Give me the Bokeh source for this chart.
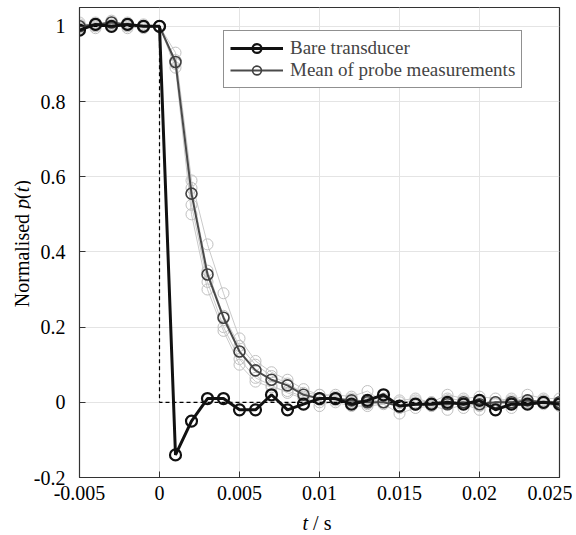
from bokeh.plotting import figure
from bokeh.models import Legend, LegendItem, FixedTicker, Range1d, Div
from bokeh.layouts import row, column
from bokeh.embed import file_html
from bokeh.resources import INLINE

# ---------------- data ----------------
t = [-0.005, -0.004, -0.003, -0.002, -0.001, 0.0, 0.001, 0.002, 0.003, 0.004,
     0.005, 0.006, 0.007, 0.008, 0.009, 0.010, 0.011, 0.012, 0.013, 0.014,
     0.015, 0.016, 0.017, 0.018, 0.019, 0.020, 0.021, 0.022, 0.023, 0.024, 0.025]

bare = [0.99, 1.005, 1.0, 1.005, 1.0, 1.0, -0.14, -0.05, 0.01, 0.01,
        -0.02, -0.02, 0.02, -0.02, -0.005, 0.01, 0.01, -0.005, 0.005, 0.02,
        -0.01, -0.005, -0.005, 0.0, -0.005, 0.005, -0.02, -0.005, -0.005, 0.0, -0.005]

mean_probe = [1.0, 1.005, 1.01, 1.005, 1.0, 1.0, 0.905, 0.555, 0.34, 0.225,
              0.135, 0.085, 0.06, 0.045, 0.02, 0.01, 0.01, 0.005, 0.0, 0.0,
              -0.01, -0.005, -0.005, -0.005, 0.0, -0.005, 0.0, 0.0, 0.005, 0.0, 0.0]

probe_1 = [1.01, 1.0, 1.015, 1.0, 1.005, 1.0, 0.93, 0.59, 0.42, 0.29,
           0.17, 0.11, 0.08, 0.06, 0.035, 0.02, 0.02, 0.015, 0.03, 0.0,
           0.005, 0.01, 0.0, 0.02, 0.01, 0.015, 0.01, 0.005, 0.02, 0.01, 0.01]
probe_2 = [1.0, 1.01, 1.0, 1.01, 1.0, 1.0, 0.91, 0.525, 0.32, 0.2,
           0.115, 0.065, 0.045, 0.025, 0.01, 0.0, 0.0, -0.01, -0.01, -0.005,
           -0.03, -0.015, -0.01, -0.02, -0.005, -0.02, -0.005, -0.015, 0.0, -0.005, -0.01]
probe_3 = [0.995, 1.0, 1.005, 1.0, 0.995, 1.0, 0.89, 0.50, 0.30, 0.19,
           0.10, 0.055, 0.04, 0.03, 0.015, -0.01, 0.005, 0.01, 0.0, 0.01,
           -0.015, 0.0, -0.01, 0.01, 0.005, -0.01, 0.0, 0.01, 0.005, 0.005, 0.0]
probe_4 = [1.005, 0.995, 1.01, 0.995, 1.0, 1.0, 0.90, 0.57, 0.35, 0.23,
           0.15, 0.10, 0.07, 0.05, 0.025, 0.02, 0.015, 0.0, -0.005, 0.0,
           0.0, 0.005, 0.0, 0.005, -0.015, 0.0, 0.0, -0.005, 0.0, 0.005, 0.0]
probes = [probe_1, probe_2, probe_3, probe_4]

ideal_t = [-0.005, 0.0, 0.0, 0.025]
ideal_p = [1.0, 1.0, 0.0, 0.0]

x_ticks = [-0.005, 0.0, 0.005, 0.01, 0.015, 0.02, 0.025]
x_tick_labels = ["-0.005", "0", "0.005", "0.01", "0.015", "0.02", "0.025"]
y_ticks = [-0.2, 0.0, 0.2, 0.4, 0.6, 0.8, 1.0]
y_tick_labels = ["-0.2", "0", "0.2", "0.4", "0.6", "0.8", "1"]

legend_labels = ["Bare transducer", "Mean of probe measurements"]
y_title_html = "Normalised <i>p</i>(<i>t</i>)"
x_title_html = "<i>t</i> / s"

# ---------------- figure ----------------
FONT = "Liberation Serif"
CSS_FONT = "'Liberation Serif', 'Times New Roman', Times, serif"
YDIV_W = 30
FIG_W, FIG_H = 540, 509
p = figure(width=FIG_W, height=FIG_H, output_backend="svg", toolbar_location=None,
           x_range=Range1d(-0.005, 0.025), y_range=Range1d(-0.2, 1.05),
           frame_width=480, frame_height=470,
           min_border_left=77 - YDIV_W, min_border_right=13, min_border_top=7,
           min_border_bottom=32, margin=0)
p.outline_line_color = "#333333"
p.outline_line_width = 1.2
p.background_fill_color = "white"
p.border_fill_color = "white"

for ax, ticks, labels in ((p.xaxis[0], x_ticks, x_tick_labels),
                          (p.yaxis[0], y_ticks, y_tick_labels)):
    ax.ticker = FixedTicker(ticks=ticks)
    ax.major_label_overrides = {tv: lab for tv, lab in zip(ticks, labels)}
    ax.minor_tick_line_color = None
    ax.major_tick_in = 6
    ax.major_tick_out = 0
    ax.major_tick_line_color = "#333333"
    ax.axis_line_color = "#333333"
    ax.major_label_text_font = FONT
    ax.major_label_text_font_size = "20px"
    ax.major_label_text_color = "black"
p.xaxis.major_label_standoff = 8
p.yaxis.major_label_standoff = 14

p.xgrid.grid_line_color = "#e4e4e4"
p.ygrid.grid_line_color = "#e4e4e4"

# individual probes
for pr in probes:
    p.line(t, pr, line_color="#cacaca", line_width=1)
    p.scatter(t, pr, marker="circle", size=11, fill_color=None,
              line_color="#c0c0c0", line_width=1)

# ideal step
p.line(ideal_t, ideal_p, line_color="black", line_width=1.2, line_dash="4 3")

# mean
r_mean_l = p.line(t, mean_probe, line_color="#4a4a4a", line_width=2)
r_mean_s = p.scatter(t, mean_probe, marker="circle", size=11, fill_color=None,
                     line_color="#404040", line_width=1.6)

# bare
r_bare_l = p.line(t, bare, line_color="#111111", line_width=3)
r_bare_s = p.scatter(t, bare, marker="circle", size=11, fill_color=None,
                     line_color="#111111", line_width=2.2)

legend = Legend(items=[LegendItem(label=legend_labels[0], renderers=[r_bare_l, r_bare_s]),
                       LegendItem(label=legend_labels[1], renderers=[r_mean_l, r_mean_s])],
                location=(144, 389), glyph_width=53, glyph_height=22,
                label_height=22, label_standoff=7, spacing=0, padding=6, margin=0,
                label_text_font=FONT, label_text_font_size="19px",
                border_line_color="#222222", border_line_width=1.2,
                background_fill_alpha=1.0)
p.add_layout(legend)

# axis titles (with italic parts) as HTML beside the figure
div_styles = {"font-family": CSS_FONT, "font-size": "20px", "color": "black"}
ydiv = Div(width=YDIV_W, height=FIG_H, margin=0, styles=div_styles, text=(
    f'<div style="box-sizing:border-box;width:{YDIV_W}px;height:{FIG_H}px;'
    'padding-left:14px;padding-bottom:21px;display:flex;align-items:center;'
    'justify-content:center;">'
    '<span style="writing-mode:vertical-rl;transform:rotate(180deg);white-space:nowrap;'
    f'font-family:{CSS_FONT};font-size:20px;color:black;line-height:22px;">'
    f'{y_title_html}</span></div>'))

xdiv = Div(width=FIG_W, height=24, margin=0, styles=div_styles, text=(
    f'<div style="width:{2 * (317 - YDIV_W)}px;height:24px;text-align:center;'
    f'font-family:{CSS_FONT};font-size:20px;line-height:24px;color:black;'
    f'white-space:nowrap;">{x_title_html}</div>'))

layout = row(ydiv, column(p, xdiv, spacing=0, margin=0), spacing=0, margin=0)

open("out.html", "w").write(file_html(layout, INLINE))
